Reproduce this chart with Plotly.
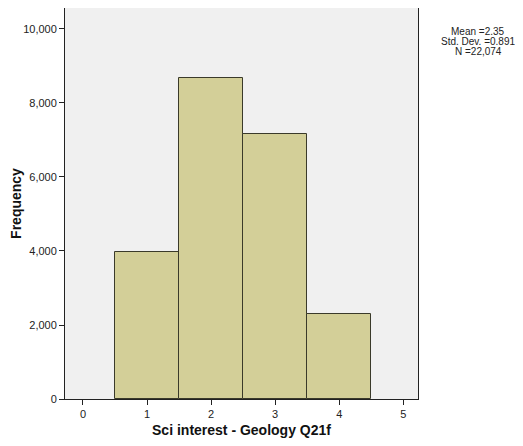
import plotly.graph_objects as go

categories = [1, 2, 3, 4]
frequencies = [3960, 8680, 7150, 2284]
x_ticks = [0, 1, 2, 3, 4, 5]
y_ticks = [0, 2000, 4000, 6000, 8000, 10000]
y_tick_labels = ["0", "2,000", "4,000", "6,000", "8,000", "10,000"]
stats_lines = ["Mean =2.35", "Std. Dev. =0.891", "N =22,074"]

fig = go.Figure()
fig.add_trace(go.Bar(
    x=categories, y=frequencies, width=1,
    marker=dict(color="#d3cf98", line=dict(color="#3a3a2a", width=1)),
    showlegend=False,
))

font = "Liberation Sans, Arial, sans-serif"
plot_h = 391
annotations = []
for i, line in enumerate(stats_lines):
    annotations.append(dict(
        text=line, xref="paper", yref="paper", x=1.17, y=1 - (24 + 10 * i) / plot_h,
        xanchor="center", yanchor="middle", showarrow=False, align="center",
        font=dict(size=10, family=font, color="#222"),
    ))

fig.update_layout(
    width=507, height=430,
    margin=dict(l=57, r=97, t=0, b=39, autoexpand=False),
    paper_bgcolor="white", plot_bgcolor="#f0f0f0",
    bargap=0,
    font=dict(family=font, size=11, color="#222"),
    xaxis=dict(
        range=[-0.28, 5.23], tickvals=x_ticks, ticktext=[str(t) for t in x_ticks],
        ticks="outside", ticklen=5, tickcolor="#222", showgrid=False, zeroline=False,
        showline=True, linecolor="#222", linewidth=1, mirror=True, automargin=False,
        title=dict(text="<b>Sci interest - Geology Q21f</b>", font=dict(size=14, family=font, color="#111"), standoff=8),
    ),
    yaxis=dict(
        range=[0, 10567], tickvals=y_ticks, ticktext=y_tick_labels,
        ticks="outside", ticklen=5, tickcolor="#222", showgrid=False, zeroline=False,
        showline=True, linecolor="#222", linewidth=1, mirror=True, automargin=False,
        title=dict(text="<b>Frequency</b>", font=dict(size=14, family=font, color="#111"), standoff=8),
    ),
    annotations=annotations,
)

fig.write_html("out.html")
